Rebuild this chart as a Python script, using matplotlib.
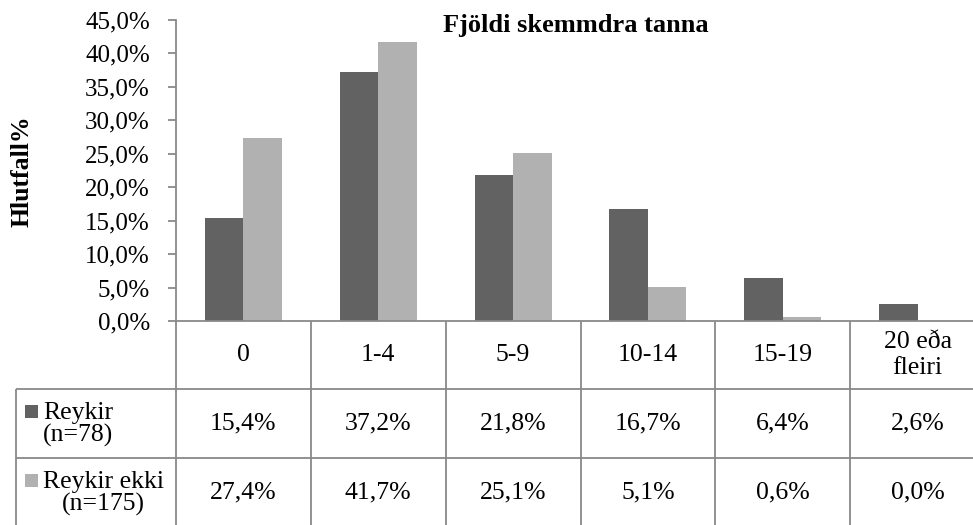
import matplotlib
matplotlib.use("Agg")
import matplotlib.pyplot as plt
from matplotlib.lines import Line2D
from matplotlib.patches import Rectangle
from matplotlib.transforms import blended_transform_factory

# ---- data ----
categories = ["0", "1-4", "5-9", "10-14", "15-19", "20 eða\nfleiri"]
smokers = [0.154, 0.372, 0.218, 0.167, 0.064, 0.026]
non_smokers = [0.274, 0.417, 0.251, 0.051, 0.006, 0.000]
series_labels = ["Reykir\n(n=78)", "Reykir ekki\n(n=175)"]
title = "Fjöldi skemmdra tanna"
ylabel = "Hlutfall%"
yticks = [0.00, 0.05, 0.10, 0.15, 0.20, 0.25, 0.30, 0.35, 0.40, 0.45]

# ---- style ----
W, H = 973, 525
DARK = "#626262"
LIGHT = "#b1b1b1"
GRID = "#898989"
FONT = "Liberation Serif"
FS_TICK = 18
FS_TABLE = 18.5
plt.rcParams["font.family"] = [FONT, "DejaVu Serif"]


def fx(px):
    return px / W


def fy(py):
    return 1 - py / H


def pct(v):
    return f"{v * 100:.1f}".replace(".", ",") + "%"


fig = plt.figure(figsize=(W / 100, H / 100), dpi=100)
fig.patch.set_facecolor("white")

ax_left, ax_right, ax_top, ax_bottom = 176, 985, 20, 321
ax = fig.add_axes([fx(ax_left), fy(ax_bottom), fx(ax_right - ax_left),
                   (ax_bottom - ax_top) / H])

n = len(categories)
bar_w = 1 / 3.5
xs = [i + 0.5 for i in range(n)]
ax.bar([x - bar_w / 2 for x in xs], smokers, width=bar_w, color=DARK, linewidth=0)
ax.bar([x + bar_w / 2 for x in xs], non_smokers, width=bar_w, color=LIGHT, linewidth=0)

ax.set_xlim(0, n)
ax.set_ylim(0, 0.45)
ax.set_yticks(yticks)
ax.set_yticklabels([pct(v) for v in yticks], fontsize=FS_TICK)
ax.set_xticks([])
ax.tick_params(axis="y", direction="out", length=5.8, width=1.3,
               color=GRID, pad=13)
for side in ("top", "right"):
    ax.spines[side].set_visible(False)
for side in ("left", "bottom"):
    ax.spines[side].set_color(GRID)
    ax.spines[side].set_linewidth(1.3)

# title and axis label
fig.text(fx(576), fy(32), title, ha="center", va="baseline",
         fontsize=19, fontweight="bold")
fig.text(fx(22), fy(171), ylabel, ha="center", va="center", rotation=90,
         fontsize=18.5, fontweight="bold")

# ---- data table below the plot ----
tr = blended_transform_factory(ax.transData, fig.transFigure)
row_tops = [321, 389, 458, 527]
line_kw = dict(color=GRID, linewidth=1.3, solid_capstyle="butt")

# vertical column separators
for i in range(1, n + 1):
    ax.add_line(Line2D([i, i], [fy(row_tops[0]), fy(row_tops[-1])],
                       transform=tr, clip_on=False, **line_kw))
fig.add_artist(Line2D([fx(ax_left), fx(ax_left)], [fy(ax_bottom), fy(row_tops[-1])],
                      **line_kw))
fig.add_artist(Line2D([fx(16), fx(16)], [fy(row_tops[1]), fy(row_tops[-1])],
                      **line_kw))
# horizontal row separators
for y in row_tops[1:3]:
    fig.add_artist(Line2D([fx(16), fx(ax_right)], [fy(y), fy(y)], **line_kw))

# header row: category names
hy = (row_tops[0] + row_tops[1]) / 2
for x, c in zip(xs, categories):
    ax.text(x, fy(hy), c, transform=tr, ha="center", va="center",
            fontsize=FS_TABLE, linespacing=1.25, clip_on=False)

# value rows with legend keys
for r, (vals, lab, col) in enumerate(zip([smokers, non_smokers],
                                         series_labels, [DARK, LIGHT])):
    cy = (row_tops[r + 1] + row_tops[r + 2]) / 2
    for x, v in zip(xs, vals):
        ax.text(x, fy(cy), pct(v), transform=tr, ha="center", va="center",
                fontsize=FS_TABLE, clip_on=False)
    fig.add_artist(Rectangle((fx(25), fy(cy - 6)), fx(13), 13 / H,
                             facecolor=col, edgecolor="none"))
    fig.text(fx(43), fy(cy + 1), lab, ha="left", va="center", multialignment="center",
             fontsize=FS_TABLE, linespacing=0.95)

fig.savefig("out.png", dpi=100, facecolor="white")
